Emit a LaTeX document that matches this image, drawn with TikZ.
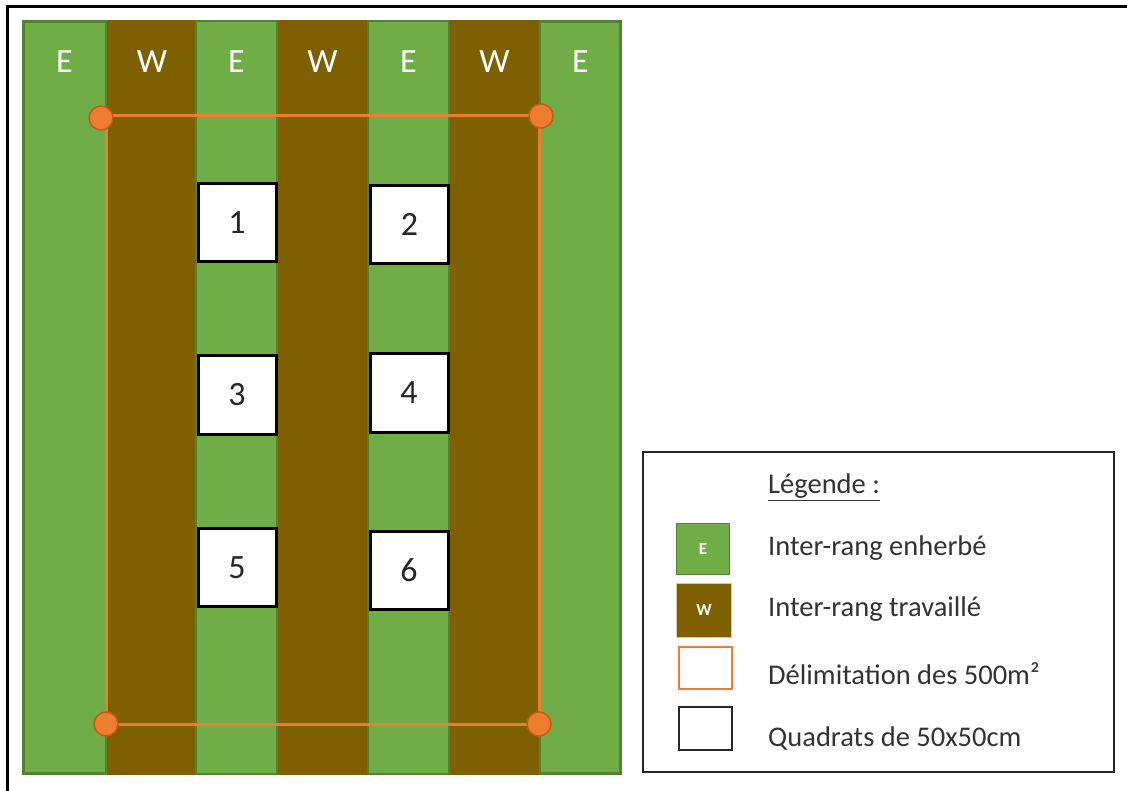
\documentclass[tikz,border=0pt]{standalone}
\usepackage{fontspec}
\setmainfont{Carlito}
\definecolor{grass}{HTML}{70AD47}
\definecolor{grassdark}{HTML}{548235}
\definecolor{soil}{HTML}{7F6000}
\definecolor{soilline}{HTML}{D9C9A0}
\definecolor{orng}{HTML}{ED7D31}
\definecolor{orngdark}{HTML}{C55A11}
\tikzset{
  estripe/.style={fill=grass,draw=grassdark,line width=2pt},
  stripelabel/.style={text=white,font=\fontsize{34}{38}\selectfont,inner sep=0pt},
  quadrat/.style={draw=black,line width=3pt,fill=white,minimum width=78pt,minimum height=78pt,inner sep=0pt,font=\fontsize{34}{38}\selectfont,text=black!85},
  corner/.style={circle,fill=orng,draw=orngdark,line width=1.5pt,minimum size=24pt,inner sep=0pt},
  delim/.style={draw=orng,line width=3pt},
  legtext/.style={anchor=west,font=\fontsize{28.5}{32}\selectfont,text=black!80,inner sep=0pt},
  legletter/.style={text=white,font=\bfseries\fontsize{17}{20}\selectfont,inner sep=0pt},
}
\begin{document}
\begin{tikzpicture}[x=1pt,y=-1pt]
\useasboundingbox (0,0) rectangle (1127,791);
\fill[white] (0,0) rectangle (1127,791);
% outer frame (cropped at right and bottom)
\draw[line width=2.5pt] (7.5,800) -- (7.5,6.5) -- (1140,6.5);
% field stripes
\foreach \xa/\xb in {107/195,278/367,450/539}{
  \fill[soil] (\xa,20) rectangle (\xb,775);
}
\foreach \xa/\xb in {22/107,195/278,367/450,539/622}{
  \draw[estripe] (\xa+1,20+1) rectangle (\xb-1,775-1);
}
\draw[grassdark,line width=3pt] (23.5,21.5) -- (23.5,773.5) -- (106,773.5);
\draw[grassdark,line width=3pt] (539,773.5) -- (620.5,773.5) -- (620.5,21.5) -- (539,21.5);
\draw[grassdark,line width=3pt] (23.5,21.5) -- (106,21.5);
% stripe labels
\node[stripelabel] (l1) at (64.5,62) {E};
\node[stripelabel] (l2) at (152,62) {W};
\node[stripelabel] (l3) at (236.5,62) {E};
\node[stripelabel] (l4) at (322.5,62) {W};
\node[stripelabel] (l5) at (408.5,62) {E};
\node[stripelabel] (l6) at (494.5,62) {W};
\node[stripelabel] (l7) at (580.5,62) {E};
% delimitation of 500 m2
\coordinate (tl) at (106,116);
\coordinate (tr) at (539,116);
\coordinate (br) at (539,724);
\coordinate (bl) at (106,724);
\draw[delim] (tl) -- (tr) -- (br) -- (bl) -- cycle;
\node[corner] (ctl) at (101,118) {};
\node[corner] (ctr) at (541,116) {};
\node[corner] (cbr) at (539,724) {};
\node[corner] (cbl) at (106,724) {};
% quadrats
\node[quadrat] (q1) at (237,222.5) {1};
\node[quadrat] (q2) at (409.5,224.5) {2};
\node[quadrat] (q3) at (237,395) {3};
\node[quadrat] (q4) at (409,393) {4};
\node[quadrat] (q5) at (237,567.5) {5};
\node[quadrat] (q6) at (409,570) {6};
% legend
\draw[line width=2pt,draw=black!85] (643,452) rectangle (1114,772);
\node[legtext] (lt) at (768,487) {\underline{Légende :}};
\node[fill=grass,draw=grassdark,line width=1.5pt,minimum width=53pt,minimum height=51pt,inner sep=0pt] (le) at (703,549) {};
\node[legletter] at (le) {E};
\node[fill=soil,draw=soilline,line width=1pt,minimum width=55pt,minimum height=54pt,inner sep=0pt] (lw) at (704,610) {};
\node[legletter] at (lw) {W};
\node[draw=orng,line width=2pt,fill=white,minimum width=53pt,minimum height=42pt,inner sep=0pt] (lo) at (705,668) {};
\node[draw=black!85,line width=2pt,fill=white,minimum width=53pt,minimum height=43pt,inner sep=0pt] (lq) at (705,728.5) {};
\node[legtext] (t1) at (768,548) {Inter-rang enherbé};
\node[legtext] (t2) at (768,609) {Inter-rang travaillé};
\node[legtext] (t3) at (768,674) {Délimitation des 500m²};
\node[legtext] (t4) at (768,738) {Quadrats de 50x50cm};
\end{tikzpicture}
\end{document}
